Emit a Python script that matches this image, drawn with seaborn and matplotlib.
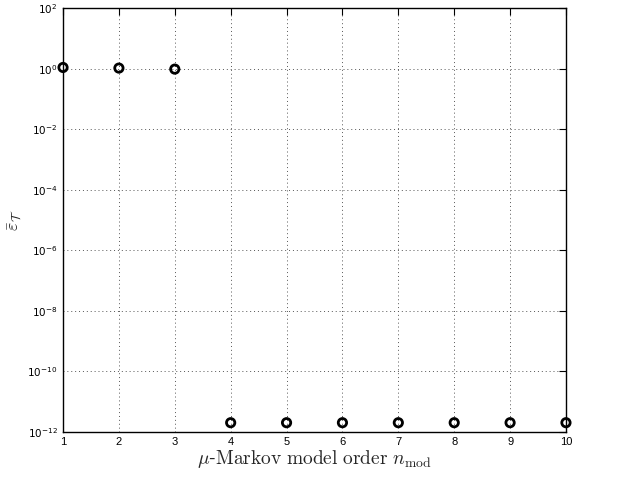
import numpy as np
import pandas as pd
import matplotlib
matplotlib.use("Agg")
import matplotlib.pyplot as plt
import seaborn as sns
from matplotlib.ticker import FixedLocator, NullLocator

model_order = [1, 2, 3, 4, 5, 6, 7, 8, 9, 10]
error_values = [1.1, 1.05, 0.97, 2.0e-12, 2.0e-12, 2.0e-12, 2.0e-12, 2.0e-12, 2.0e-12, 2.0e-12]
x_ticks = [1, 2, 3, 4, 5, 6, 7, 8, 9, 10]
y_ticks = [1e-12, 1e-10, 1e-8, 1e-6, 1e-4, 1e-2, 1e0, 1e2]

sns.set_style("white")
plt.rcParams['font.family'] = ['Liberation Sans', 'DejaVu Sans']
plt.rcParams['mathtext.fontset'] = 'cm'

df = pd.DataFrame({"order": model_order, "err": error_values})

fig = plt.figure(figsize=(6.24, 4.83), dpi=100)
ax = fig.add_axes([0.101, 0.106, 0.806, 0.877])

sns.scatterplot(data=df, x="order", y="err", ax=ax, marker="o", s=36,
                facecolors="none", edgecolor="black", linewidth=2, zorder=5, clip_on=False)

ax.set_yscale("log")
ax.set_xlim(1, 10)
ax.set_ylim(1e-12, 1e2)
ax.xaxis.set_major_locator(FixedLocator(x_ticks))
ax.yaxis.set_major_locator(FixedLocator(y_ticks))
ax.yaxis.set_minor_locator(NullLocator())
ax.set_xticklabels([str(t) for t in x_ticks])
ax.set_yticklabels([r"$10^{%d}$" % int(np.log10(t)) for t in y_ticks])
for lbl in ax.get_yticklabels():
    lbl.set_math_fontfamily('dejavusans')

ax.grid(True, which="major", linestyle=(0, (1, 3)), color="#555555", linewidth=0.7)
ax.tick_params(axis="both", which="both", direction="in", length=5, width=0.8,
               top=True, right=True, labelsize=8, colors="black")
ax.tick_params(axis="y", labelsize=7.5, pad=4)
for s in ax.spines.values():
    s.set_visible(True)
    s.set_color("black")
    s.set_linewidth(1.0)

ax.set_xlabel(r"$\mu$-$\mathrm{Markov\ model\ order}\ n_{\mathrm{mod}}$", fontsize=14,
              labelpad=1)
ax.set_ylabel(r"$\bar{\varepsilon}_{\mathcal{T}}$", fontsize=13)
ax.yaxis.set_label_coords(-0.078, 0.5)

fig.savefig("out.png", dpi=100)
